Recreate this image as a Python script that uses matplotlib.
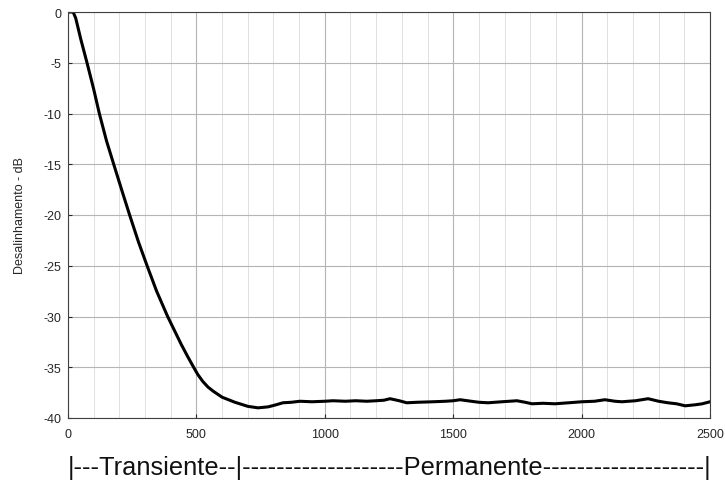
import matplotlib
matplotlib.use("Agg")
import matplotlib.pyplot as plt
from matplotlib.ticker import MultipleLocator

plt.rcParams['font.family'] = ['Liberation Sans', 'DejaVu Sans']
plt.rcParams['axes.unicode_minus'] = False

# Desalinhamento (dB) versus iteração
iteracoes = [0, 20, 30, 50, 74, 100, 122, 150, 178, 210, 240, 275, 308, 345,
             388, 440, 465, 487, 505, 525, 545, 565, 600, 650, 700, 740, 780,
             810, 837, 870, 903, 950, 1000, 1032, 1080, 1120, 1164, 1200, 1230,
             1254, 1290, 1319, 1360, 1422, 1470, 1500, 1527, 1570, 1600, 1636,
             1690, 1748, 1780, 1807, 1850, 1896, 1950, 2001, 2050, 2091, 2130,
             2157, 2210, 2259, 2300, 2336, 2370, 2403, 2442, 2470, 2500]
desalinhamento = [0.0, 0.0, -0.6, -2.7, -5.0, -7.6, -10.0, -12.7, -15.0, -17.6,
                  -20.0, -22.7, -25.0, -27.5, -30.0, -32.7, -33.9, -34.9,
                  -35.7, -36.4, -36.95, -37.35, -37.95, -38.45, -38.85, -39.0,
                  -38.9, -38.7, -38.5, -38.45, -38.35, -38.4, -38.35, -38.3,
                  -38.35, -38.3, -38.35, -38.3, -38.25, -38.1, -38.3, -38.5,
                  -38.45, -38.4, -38.35, -38.3, -38.2, -38.35, -38.45, -38.5,
                  -38.4, -38.3, -38.45, -38.6, -38.55, -38.6, -38.5, -38.4,
                  -38.35, -38.2, -38.35, -38.4, -38.3, -38.1, -38.35, -38.5,
                  -38.6, -38.8, -38.7, -38.6, -38.4]

regioes = '|---Transiente--|-------------------Permanente-------------------|'

fig = plt.figure(figsize=(7.25, 4.81), dpi=100)
ax = fig.add_axes([68 / 725, 1 - 419 / 481, 642 / 725, 406 / 481])

ax.plot(iteracoes, desalinhamento, color='black', linewidth=2.2,
        solid_joinstyle='round')

ax.set_xlim(0, 2500)
ax.set_ylim(-40, 0)
ax.xaxis.set_major_locator(MultipleLocator(500))
ax.xaxis.set_minor_locator(MultipleLocator(100))
ax.yaxis.set_major_locator(MultipleLocator(5))

ax.grid(True, which='major', color='#b4b4b4', linewidth=0.8)
ax.grid(True, which='minor', axis='x', color='#e0e0e0', linewidth=0.7)
ax.set_axisbelow(True)

ax.tick_params(which='both', direction='in', labelsize=9, colors='#262626',
               length=3)
ax.tick_params(axis='x', pad=7)
ax.tick_params(axis='y', pad=5)
ax.tick_params(which='minor', length=0)
for s in ax.spines.values():
    s.set_color('#404040')
    s.set_linewidth(0.8)

ax.set_ylabel('Desalinhamento - dB', fontsize=9, color='#262626')
ax.yaxis.set_label_coords((26 - 68) / 642, 0.5)

fig.text(68 / 725, 1 - 475 / 481, regioes, fontsize=18.3, va='baseline',
         ha='left', color='#111111')

fig.savefig('out.png', dpi=100)
